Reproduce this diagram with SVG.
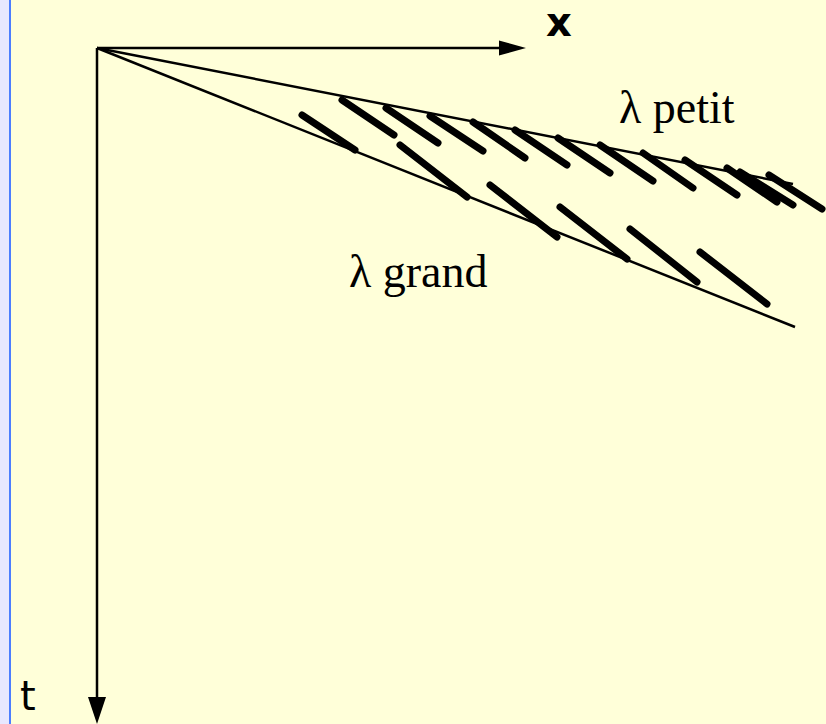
<svg xmlns="http://www.w3.org/2000/svg" width="826" height="724" viewBox="0 0 826 724">
  <defs>
    <style>
      .axis { stroke: #000; stroke-width: 2.5; fill: none; }
      .ray { stroke: #000; stroke-width: 2.5; fill: none; }
      .dash { stroke: #000; stroke-width: 7; stroke-linecap: round; fill: none; }
      .sans { font-family: "DejaVu Sans", Verdana, sans-serif; font-size: 40px; fill: #000; }
      .serif { font-family: "Liberation Serif", "Times New Roman", serif; font-size: 46px; fill: #000; }
    </style>
  </defs>
  <rect x="0" y="0" width="826" height="724" fill="#FFFFD9"/>
  <rect x="0" y="0" width="10" height="724" fill="#E8E8FF"/>
  <rect x="9" y="0" width="2" height="724" fill="#4C7EFF"/>

  <g id="axes">
    <line class="axis" x1="97" y1="48" x2="505" y2="48"/>
    <polygon points="499,40.5 526,48 499,55.5" fill="#000"/>
    <line class="axis" x1="97" y1="48" x2="97" y2="702"/>
    <polygon points="88,697 106,697 97,724" fill="#000"/>
  </g>

  <g id="rays">
    <line class="ray" x1="97" y1="48" x2="793" y2="184"/>
    <line class="ray" x1="97" y1="48" x2="795" y2="327"/>
  </g>

  <g id="dashes-petit">
    <line class="dash" x1="342" y1="100" x2="394" y2="135"/>
    <line class="dash" x1="386" y1="108" x2="438" y2="143"/>
    <line class="dash" x1="430" y1="116" x2="483" y2="151"/>
    <line class="dash" x1="473" y1="122" x2="525" y2="158"/>
    <line class="dash" x1="515" y1="130" x2="567" y2="165"/>
    <line class="dash" x1="558" y1="138" x2="610" y2="173"/>
    <line class="dash" x1="600" y1="145" x2="653" y2="181"/>
    <line class="dash" x1="643" y1="153" x2="693" y2="188"/>
    <line class="dash" x1="685" y1="160" x2="737" y2="195"/>
    <line class="dash" x1="727" y1="168" x2="777" y2="202"/>
    <line class="dash" x1="740" y1="172" x2="793" y2="205"/>
    <line class="dash" x1="769" y1="175" x2="822" y2="209"/>
  </g>

  <g id="dashes-grand">
    <line class="dash" x1="302" y1="115" x2="355" y2="150"/>
    <line class="dash" x1="400" y1="145" x2="467" y2="197"/>
    <line class="dash" x1="490" y1="185" x2="557" y2="237"/>
    <line class="dash" x1="560" y1="207" x2="627" y2="259"/>
    <line class="dash" x1="630" y1="229" x2="697" y2="282"/>
    <line class="dash" x1="700" y1="252" x2="767" y2="304"/>
  </g>

  <g id="labels">
    <text class="sans" x="546" y="36" font-weight="bold">x</text>
    <text class="sans" x="20" y="710" font-size="42">t</text>
    <text class="serif" x="619" y="123">λ petit</text>
    <text class="serif" x="349" y="287">λ grand</text>
  </g>
</svg>
